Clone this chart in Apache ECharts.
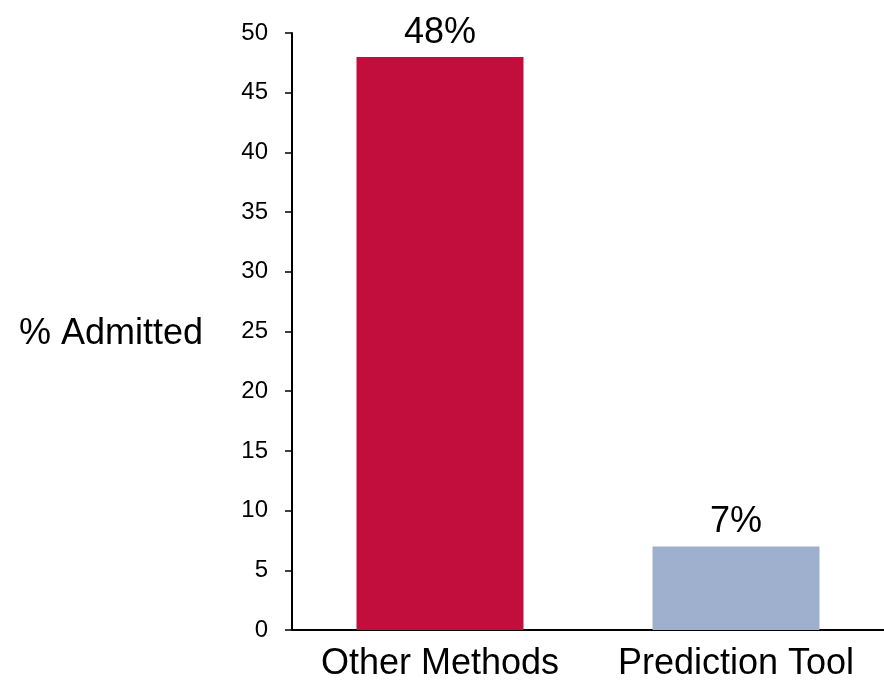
<!DOCTYPE html>
<html>
<head>
<meta charset="utf-8">
<script src="https://cdn.jsdelivr.net/npm/echarts@6/dist/echarts.min.js"></script>
<style>
  html, body { margin: 0; padding: 0; background: #fff; }
  #chart { width: 884px; height: 682px; }
</style>
</head>
<body>
<div id="chart"></div>
<script>
// Share of patients admitted, by method of assessment
const categories = ['Other Methods', 'Prediction Tool'];
const admittedPct = [48, 7];
const barColors = ['#C20E3C', '#9EB0CE'];
const yTicks = [0, 5, 10, 15, 20, 25, 30, 35, 40, 45, 50];

const font = 'Liberation Sans, Arial, sans-serif';
const chart = echarts.init(document.getElementById('chart'), null, { renderer: 'canvas' });

chart.setOption({
  animation: false,
  backgroundColor: '#ffffff',
  grid: { left: 292, right: -6, top: 33, bottom: 48, containLabel: false },
  graphic: [{
    type: 'text',
    right: 884 - 203,
    top: 316,
    style: { text: '% Admitted', font: '36px ' + font, fill: '#000' }
  }],
  xAxis: {
    type: 'category',
    data: categories,
    axisLine: { lineStyle: { color: '#000', width: 2 } },
    axisTick: { show: false },
    axisLabel: { interval: 0, hideOverlap: false, color: '#000', fontSize: 36, fontFamily: font, margin: 16 }
  },
  yAxis: {
    type: 'value',
    min: yTicks[0],
    max: yTicks[yTicks.length - 1],
    interval: 5,
    splitLine: { show: false },
    axisLine: { show: true, lineStyle: { color: '#000', width: 2 } },
    axisTick: { show: true, length: 7, lineStyle: { color: '#000', width: 1.5 } },
    axisLabel: { color: '#000', fontSize: 24, fontFamily: font, margin: 24 }
  },
  series: [{
    type: 'bar',
    barWidth: 167,
    data: admittedPct.map((v, i) => ({ value: v, itemStyle: { color: barColors[i] } })),
    label: {
      show: true,
      position: 'top',
      distance: 6,
      color: '#000',
      fontSize: 36,
      fontFamily: font,
      formatter: p => p.value + '%'
    }
  }]
});
</script>
</body>
</html>
